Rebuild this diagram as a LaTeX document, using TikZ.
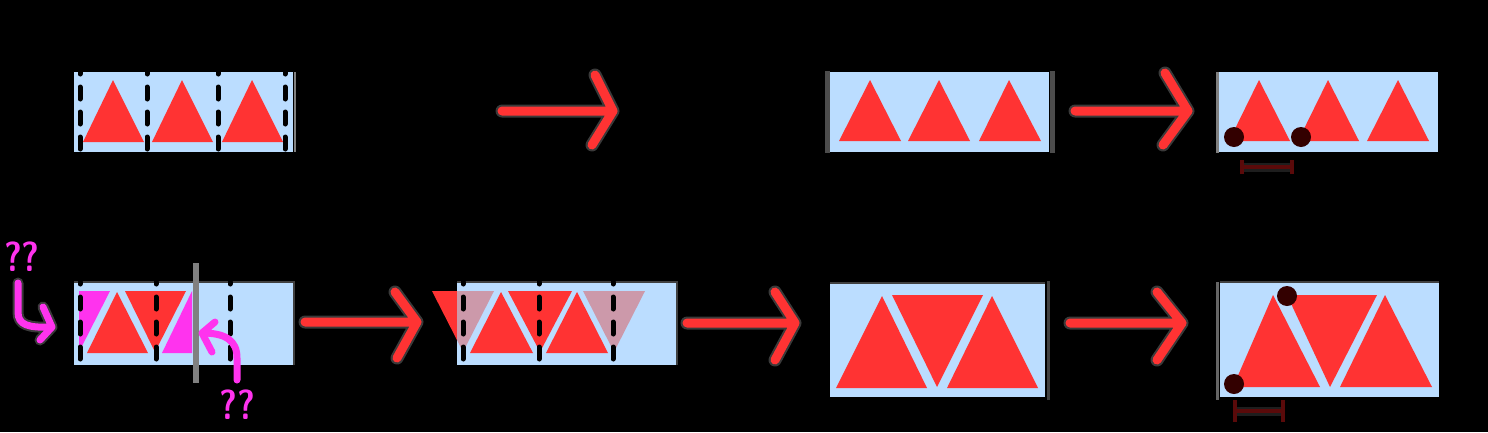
\documentclass[tikz,border=0pt]{standalone}
\definecolor{bl}{HTML}{BBDDFF}
\definecolor{rd}{HTML}{FF3333}
\definecolor{mg}{HTML}{FF33EE}
\definecolor{pk}{HTML}{CC99AA}
\definecolor{dk}{HTML}{330000}
\definecolor{dm}{HTML}{5A0A0A}
\definecolor{hl}{HTML}{3A3A3A}
\definecolor{dh}{HTML}{1E1E1E}
\tikzset{
  boxfill/.style={fill=bl},
  tri/.style={fill=rd},
  ghost/.style={fill=pk},
  ghostm/.style={fill=mg},
  cutline/.style={black, line width=5, dash pattern=on 12 off 13, dash phase=10, line cap=round},
  arr/.style={rd, line width=9, line cap=round, line join=round},
  halo/.style={hl, line width=13, line cap=round, line join=round},
  mga/.style={mg, line width=7, line cap=round, line join=round},
  mghalo/.style={hl, line width=11, line cap=round, line join=round},
  dotc/.style={fill=dk},
  dimline/.style={dm, line width=4},
  dimhalo/.style={dh, line width=9},
  edge/.style={draw=black!75!white, line width=1.5},
  qq/.style={text=mg, font=\sffamily\bfseries\fontsize{42}{42}\selectfont, inner sep=0pt, xscale=0.82}
}
\begin{document}
\begin{tikzpicture}[x=1pt,y=-1pt]
\fill[black] (0,0) rectangle (1488,432);
\useasboundingbox (0,0) rectangle (1488,432);

% ---------- top row ----------
% box 1
\fill[boxfill] (74,72) rectangle (293,152);
\draw[gray, line width=2] (295,72) -- (295,152);
\fill[tri] (83,142) -- (144,142) -- (113,80) -- cycle;
\fill[tri] (152,142) -- (213,142) -- (182,80) -- cycle;
\fill[tri] (222,142) -- (283,142) -- (252,80) -- cycle;
\foreach \x in {80,147,218,285} \draw[cutline] (\x,72) -- (\x,152);

% arrow 1
\coordinate (a1s) at (502,111); \coordinate (a1t) at (613,111);
\coordinate (a1u) at (595,75); \coordinate (a1d) at (592,145);
\draw[halo] (a1s) -- (a1t) (a1u) -- (a1t) -- (a1d);
\draw[arr] (a1s) -- (a1t) (a1u) -- (a1t) -- (a1d);

% box 2
\fill[boxfill] (830,72) rectangle (1049,152);
\draw[black!70!white, line width=5] (827,71) -- (827,153) (1052,71) -- (1052,153);
\fill[tri] (839,141) -- (901,141) -- (870,80) -- cycle;
\fill[tri] (908,141) -- (970,141) -- (939,80) -- cycle;
\fill[tri] (979,141) -- (1041,141) -- (1009,80) -- cycle;

% arrow 2
\coordinate (a2s) at (1075,111); \coordinate (a2t) at (1188,111);
\coordinate (a2u) at (1165,73); \coordinate (a2d) at (1163,145);
\draw[halo] (a2s) -- (a2t) (a2u) -- (a2t) -- (a2d);
\draw[arr] (a2s) -- (a2t) (a2u) -- (a2t) -- (a2d);

% box 3
\fill[boxfill] (1219,72) rectangle (1438,152);
\draw[gray, line width=3] (1217,72) -- (1217,153);
\fill[tri] (1229,141) -- (1290,141) -- (1259,80) -- cycle;
\fill[tri] (1298,141) -- (1359,141) -- (1328,80) -- cycle;
\fill[tri] (1367,141) -- (1429,141) -- (1398,80) -- cycle;
\fill[dotc] (1234,137) circle (10);
\fill[dotc] (1301,137) circle (10);
\coordinate (d1a) at (1242,167); \coordinate (d1b) at (1292,167);
\draw[dimhalo] (d1a) -- (d1b);
\draw[dimline] (d1a) -- (d1b);
\draw[dimline] ([yshift=-7pt]d1a) -- ([yshift=7pt]d1a) ([yshift=-7pt]d1b) -- ([yshift=7pt]d1b);

% ---------- bottom row ----------
% box 1
\fill[boxfill] (74,282) rectangle (294,365);
\draw[edge] (74,282) -- (294,282) -- (294,365);
\fill[ghostm] (79,291) -- (110,291) -- (79,352) -- cycle;
\fill[tri] (87,353) -- (148,353) -- (117,292) -- cycle;
\fill[tri] (125,291) -- (186,291) -- (155,352) -- cycle;
\fill[ghostm] (162,353) -- (192,353) -- (192,291) -- cycle;
\foreach \x in {80,156,230} \draw[cutline] (\x,282) -- (\x,365);
\draw[gray, line width=6] (196,263) -- (196,383);

% question marks and magenta arrows
\node[qq] (q1) at (22,257) {??};
\node[qq] (q2) at (237,405) {??};
\coordinate (m1s) at (18,283);
\coordinate (m1t) at (52,327);
\draw[mghalo] (m1s) -- (18,312) .. controls (18,325) and (28,328) .. (m1t) (43,307) -- (m1t) -- (40,340);
\draw[mga] (m1s) -- (18,312) .. controls (18,325) and (28,328) .. (m1t) (43,307) -- (m1t) -- (40,340);
\coordinate (m2s) at (237,380);
\coordinate (m2t) at (202,333);
\draw[mga] (m2s) -- (237,358) .. controls (237,340) and (225,333) .. (m2t) (215,322) -- (m2t) -- (212,352);

% arrow 3
\coordinate (a3s) at (305,322); \coordinate (a3t) at (417,322);
\coordinate (a3u) at (395,292); \coordinate (a3d) at (397,358);
\draw[halo] (a3s) -- (a3t) (a3u) -- (a3t) -- (a3d);
\draw[arr] (a3s) -- (a3t) (a3u) -- (a3t) -- (a3d);

% box 2
\fill[boxfill] (457,282) rectangle (677,365);
\draw[edge] (457,282) -- (677,282) -- (677,365);
\fill[tri] (432,291) -- (457,291) -- (457,340) -- cycle;
\fill[ghost] (457,291) -- (494,291) -- (463,352) -- (457,340) -- cycle;
\fill[tri] (470,353) -- (533,353) -- (501,292) -- cycle;
\fill[tri] (508,291) -- (572,291) -- (540,352) -- cycle;
\fill[tri] (546,353) -- (608,353) -- (577,292) -- cycle;
\fill[ghost] (583,291) -- (645,291) -- (614,352) -- cycle;
\foreach \x in {463,539,613} \draw[cutline] (\x,282) -- (\x,365);

% arrow 4
\coordinate (a4s) at (687,323); \coordinate (a4t) at (795,323);
\coordinate (a4u) at (775,292); \coordinate (a4d) at (775,360);
\draw[halo] (a4s) -- (a4t) (a4u) -- (a4t) -- (a4d);
\draw[arr] (a4s) -- (a4t) (a4u) -- (a4t) -- (a4d);

% box 3
\fill[boxfill] (830,283) rectangle (1045,397);
\draw[edge] (830,283) -- (1045,283);
\draw[black!75!white, line width=3] (1048,281) -- (1048,400);
\fill[tri] (836,388) -- (927,388) -- (882,296) -- cycle;
\fill[tri] (892,295) -- (983,295) -- (937,387) -- cycle;
\fill[tri] (947,388) -- (1038,388) -- (992,296) -- cycle;

% arrow 5
\coordinate (a5s) at (1070,323); \coordinate (a5t) at (1182,323);
\coordinate (a5u) at (1157,292); \coordinate (a5d) at (1157,360);
\draw[halo] (a5s) -- (a5t) (a5u) -- (a5t) -- (a5d);
\draw[arr] (a5s) -- (a5t) (a5u) -- (a5t) -- (a5d);

% box 4
\fill[boxfill] (1220,282) rectangle (1439,397);
\draw[edge] (1220,282) -- (1439,282);
\draw[gray!80!black, line width=3] (1217,282) -- (1217,400);
\fill[tri] (1233,387) -- (1320,387) -- (1273,295) -- cycle;
\fill[tri] (1287,295) -- (1377,295) -- (1330,387) -- cycle;
\fill[tri] (1340,387) -- (1432,387) -- (1385,295) -- cycle;
\fill[dotc] (1234,384) circle (10);
\fill[dotc] (1287,296) circle (10);
\coordinate (d2a) at (1235,411); \coordinate (d2b) at (1283,411);
\draw[dimhalo] (d2a) -- (d2b);
\draw[dimline] (d2a) -- (d2b);
\draw[dimline] ([yshift=-11pt]d2a) -- ([yshift=11pt]d2a) ([yshift=-11pt]d2b) -- ([yshift=11pt]d2b);
\end{tikzpicture}
\end{document}
